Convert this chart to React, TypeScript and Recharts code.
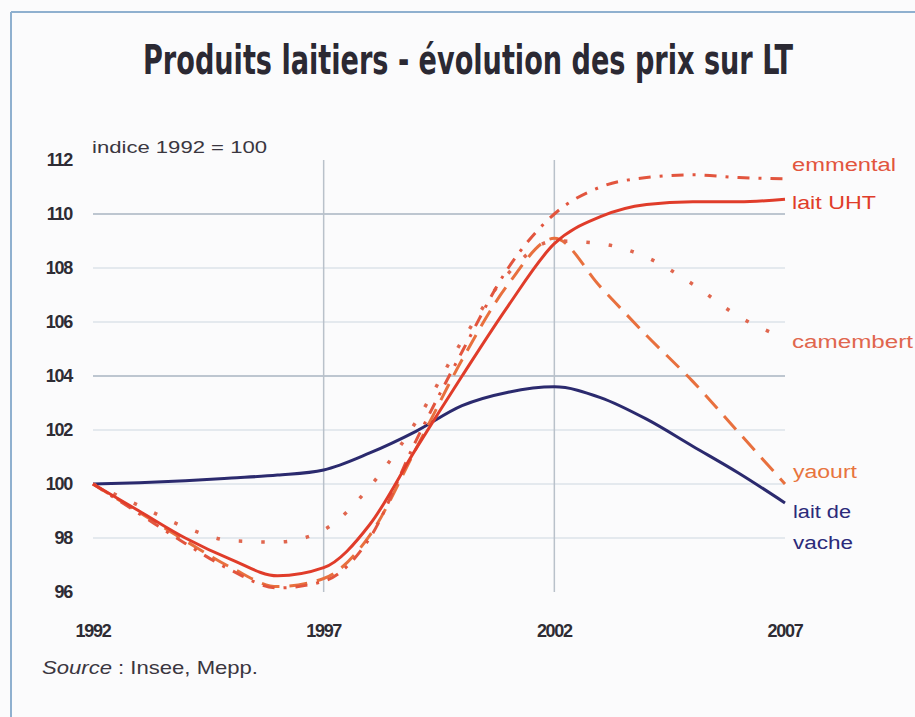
import { useLayoutEffect, useRef, useState } from "react";
import { LineChart, Line, XAxis, YAxis, ReferenceLine } from "recharts";

const years = [1992, 1993, 1994, 1995, 1996, 1997, 1998, 1999, 2000, 2001, 2002, 2003, 2004, 2005, 2006, 2007];
const emmental = [100, 98.9, 97.8, 96.8, 96.15, 96.4, 98.0, 101.6, 104.9, 108.0, 110.0, 111.0, 111.35, 111.45, 111.35, 111.3];
const laitUHT = [100, 99.0, 98.0, 97.2, 96.6, 96.9, 98.5, 101.3, 104.0, 106.6, 108.9, 109.9, 110.35, 110.45, 110.45, 110.55];
const camembert = [100, 99.2, 98.4, 97.9, 97.85, 98.3, 99.9, 102.3, 105.3, 107.8, 109.0, 108.9, 108.4, 107.4, 106.2, 105.4];
const yaourt = [100, 98.95, 97.9, 96.9, 96.2, 96.5, 98.1, 101.3, 104.6, 107.4, 109.1, 107.3, 105.5, 103.8, 101.9, 100.0];
const laitVache = [100, 100.05, 100.12, 100.22, 100.33, 100.52, 101.15, 101.95, 102.9, 103.4, 103.6, 103.2, 102.4, 101.4, 100.4, 99.3];

const xTicks = [1992, 1997, 2002, 2007];
const yTicks = [96, 98, 100, 102, 104, 106, 108, 110, 112];
const strongGrid = [104, 110];
const lightGrid = [98, 100, 102, 106, 108];
const vGrid = [1997, 2002];

const data = years.map((year, i) => ({
  year,
  emmental: emmental[i],
  laitUHT: laitUHT[i],
  camembert: camembert[i],
  yaourt: yaourt[i],
  laitVache: laitVache[i],
}));

const tickFont = "'Liberation Sans', Arial, sans-serif";
const TITLE = "Produits laitiers - évolution des prix sur LT";

function YTick({ x, y, payload }: any) {
  return (
    <text x={x} y={y} dy={6} textAnchor="end" fontFamily={tickFont} fontWeight="bold" fontSize={18} letterSpacing={-1.3} fill="#2e2c34">
      {payload.value}
    </text>
  );
}

function XTick({ x, y, payload }: any) {
  return (
    <text x={x} y={y} dy={12} textAnchor="middle" fontFamily={tickFont} fontWeight="bold" fontSize={18} letterSpacing={-1.3} fill="#2e2c34">
      {payload.value}
    </text>
  );
}

// title squeezed to the width it has in the picture (condensed face)
function Title() {
  const ref = useRef<SVGTextElement>(null);
  const [sx, setSx] = useState(0.7);
  useLayoutEffect(() => {
    if (ref.current) {
      const w = ref.current.getComputedTextLength();
      if (w > 0) setSx(650 / w);
    }
  }, []);
  return (
    <g transform={`translate(143 74) scale(${sx} 1)`}>
      <text ref={ref} x={0} y={0} fontFamily="'DejaVu Sans Condensed', 'Liberation Sans Narrow', sans-serif" fontWeight="bold" fontSize={40} fill="#2b2933">
        {TITLE}
      </text>
    </g>
  );
}

export default function App() {
  return (
    <div style={{ position: "absolute", left: 0, top: 0, width: 915, height: 717, background: "#fbfbfc", overflow: "hidden" }}>
      <LineChart width={915} height={717} data={data} margin={{ top: 160, right: 130, bottom: 95, left: 33 }}>
        <XAxis
          dataKey="year"
          type="number"
          domain={[1992, 2007]}
          ticks={xTicks}
          axisLine={false}
          tickLine={false}
          tick={<XTick />}
          tickMargin={27}
          height={30}
        />
        <YAxis
          type="number"
          domain={[96, 112]}
          ticks={yTicks}
          axisLine={false}
          tickLine={false}
          tick={<YTick />}
          tickMargin={15}
          width={60}
        />
        {lightGrid.map((v) => (
          <ReferenceLine key={"l" + v} y={v} stroke="#dde3ea" strokeWidth={1.5} />
        ))}
        {strongGrid.map((v) => (
          <ReferenceLine key={"s" + v} y={v} stroke="#a9b5c2" strokeWidth={1.5} />
        ))}
        {vGrid.map((v) => (
          <ReferenceLine key={"v" + v} x={v} stroke="#b9c1ca" strokeWidth={1.5} />
        ))}
        <Line dataKey="laitVache" type="monotone" stroke="#2b2a6e" strokeWidth={3} dot={false} isAnimationActive={false} />
        <Line dataKey="yaourt" type="monotone" stroke="#e8703e" strokeWidth={3} strokeDasharray="18 10" dot={false} isAnimationActive={false} />
        <Line dataKey="camembert" type="monotone" stroke="#e0664e" strokeWidth={3.5} strokeDasharray="3.5 19" dot={false} isAnimationActive={false} />
        <Line dataKey="emmental" type="monotone" stroke="#e2553e" strokeWidth={3} strokeDasharray="12 9 3 9" dot={false} isAnimationActive={false} />
        <Line dataKey="laitUHT" type="monotone" stroke="#e03c2a" strokeWidth={3} dot={false} isAnimationActive={false} />
      </LineChart>
      <svg width={915} height={717} style={{ position: "absolute", left: 0, top: 0, pointerEvents: "none" }}>
        <line x1={11} y1={12} x2={915} y2={12} stroke="#8fb0cf" strokeWidth={2} />
        <line x1={11} y1={12} x2={11} y2={717} stroke="#8fb0cf" strokeWidth={2} />
        <Title />
        <text x={92} y={153} fontFamily={tickFont} fontSize={17} fill="#3a3640" textLength={175} lengthAdjust="spacingAndGlyphs">
          indice 1992 = 100
        </text>
        <text x={42} y={674} fontFamily={tickFont} fontSize={19} fill="#3a3640" textLength={216} lengthAdjust="spacingAndGlyphs">
          <tspan fontStyle="italic">Source</tspan> : Insee, Mepp.
        </text>
        <g fontFamily={tickFont} fontSize={18}>
          <text x={792} y={171} fill="#e2553e" textLength={104} lengthAdjust="spacingAndGlyphs">emmental</text>
          <text x={792} y={209} fill="#e03c2a" textLength={84} lengthAdjust="spacingAndGlyphs">lait UHT</text>
          <text x={792} y={348} fill="#e0664e" textLength={121} lengthAdjust="spacingAndGlyphs">camembert</text>
          <text x={793} y={478} fill="#e8743e" textLength={64} lengthAdjust="spacingAndGlyphs">yaourt</text>
          <text x={793} y={518} fill="#2b2a7a" textLength={58} lengthAdjust="spacingAndGlyphs">lait de</text>
          <text x={793} y={549} fill="#2b2a7a" textLength={60} lengthAdjust="spacingAndGlyphs">vache</text>
        </g>
      </svg>
    </div>
  );
}
